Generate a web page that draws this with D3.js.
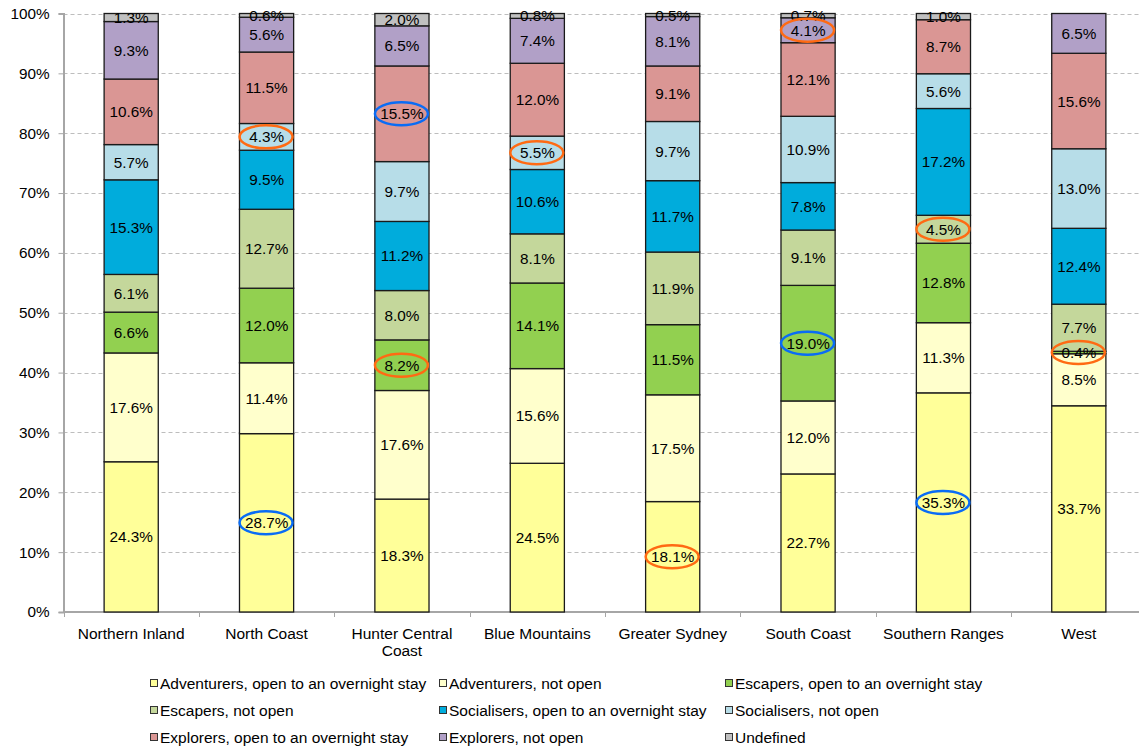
<!DOCTYPE html>
<html>
<head>
<meta charset="utf-8">
<script src="https://cdn.jsdelivr.net/npm/d3@7"></script>
<style>
  html, body { margin: 0; padding: 0; background: #fff; }
  svg { display: block; }
  text { font-family: "Liberation Sans", Arial, sans-serif; fill: #000; }
</style>
</head>
<body>
<svg id="chart" width="1139" height="749"></svg>
<script>
// Regions shown along the x axis
const regions = ["Northern Inland", "North Coast", "Hunter Central Coast", "Blue Mountains",
                 "Greater Sydney", "South Coast", "Southern Ranges", "West"];
const regionLines = [["Northern Inland"], ["North Coast"], ["Hunter Central", "Coast"], ["Blue Mountains"],
                     ["Greater Sydney"], ["South Coast"], ["Southern Ranges"], ["West"]];

// Segments, bottom to top
const segments = ["Adventurers, open to an overnight stay", "Adventurers, not open",
                  "Escapers, open to an overnight stay", "Escapers, not open",
                  "Socialisers, open to an overnight stay", "Socialisers, not open",
                  "Explorers, open to an overnight stay", "Explorers, not open", "Undefined"];
const segmentColors = ["#FFFF99", "#FFFFCC", "#92D050", "#C4D79B", "#00ACDC",
                       "#B7DDE8", "#DA9694", "#B1A0C7", "#C0C0C0"];

// Share (%) of each segment per region, one array per segment
const adventurersOpen    = [24.3, 28.7, 18.3, 24.5, 18.1, 22.7, 35.3, 33.7];
const adventurersNotOpen = [17.6, 11.4, 17.6, 15.6, 17.5, 12.0, 11.3, 8.5];
const escapersOpen       = [6.6, 12.0, 8.2, 14.1, 11.5, 19.0, 12.8, 0.4];
const escapersNotOpen    = [6.1, 12.7, 8.0, 8.1, 11.9, 9.1, 4.5, 7.7];
const socialisersOpen    = [15.3, 9.5, 11.2, 10.6, 11.7, 7.8, 17.2, 12.4];
const socialisersNotOpen = [5.7, 4.3, 9.7, 5.5, 9.7, 10.9, 5.6, 13.0];
const explorersOpen      = [10.6, 11.5, 15.5, 12.0, 9.1, 12.1, 8.7, 15.6];
const explorersNotOpen   = [9.3, 5.6, 6.5, 7.4, 8.1, 4.1, 0, 6.5];
const undefinedShare     = [1.3, 0.6, 2.0, 0.8, 0.5, 0.7, 1.0, 0];

const seriesValues = [adventurersOpen, adventurersNotOpen, escapersOpen, escapersNotOpen,
                      socialisersOpen, socialisersNotOpen, explorersOpen, explorersNotOpen, undefinedShare];

const yTicks = [0, 0.1, 0.2, 0.3, 0.4, 0.5, 0.6, 0.7, 0.8, 0.9, 1];

// Highlighted values: [region, segment, ring colour]
const highlights = [
  ["North Coast", "Socialisers, not open", "orange"],
  ["North Coast", "Adventurers, open to an overnight stay", "blue"],
  ["Hunter Central Coast", "Explorers, open to an overnight stay", "blue"],
  ["Hunter Central Coast", "Escapers, open to an overnight stay", "orange"],
  ["Blue Mountains", "Socialisers, not open", "orange"],
  ["Greater Sydney", "Adventurers, open to an overnight stay", "orange"],
  ["South Coast", "Explorers, not open", "orange"],
  ["South Coast", "Escapers, open to an overnight stay", "blue"],
  ["Southern Ranges", "Escapers, not open", "orange"],
  ["Southern Ranges", "Adventurers, open to an overnight stay", "blue"],
  ["West", "Escapers, open to an overnight stay", "orange"]
];
const ringColors = { orange: "#FF6A13", blue: "#0A6CF5" };

// Table for d3.stack
const rows = regions.map((r, i) => {
  const row = { region: r };
  segments.forEach((s, j) => { row[s] = seriesValues[j][i]; });
  return row;
});

const svg = d3.select("#chart");
const margin = { left: 63.5, right: 1146.5, top: 13.5, bottom: 612 };

const x = d3.scaleBand().domain(regions).range([margin.left, margin.right]).paddingInner(0.6).paddingOuter(0.3);
const xOuter = d3.scaleBand().domain(regions).range([margin.left, margin.right]);
const y = d3.scaleLinear().domain([0, 1]).range([margin.bottom, margin.top]);

const stacked = d3.stack().keys(segments).offset(d3.stackOffsetExpand)(rows);

// Grid lines
svg.append("g")
  .selectAll("line").data(yTicks.filter(t => t > 0)).join("line")
  .attr("x1", margin.left).attr("x2", 1139)
  .attr("y1", d => Math.round(y(d)) + 0.5).attr("y2", d => Math.round(y(d)) + 0.5)
  .attr("stroke", "#BDBDBD").attr("stroke-dasharray", "4,3").attr("stroke-width", 1);

// Y axis
const yAxis = svg.append("g")
  .attr("transform", `translate(${margin.left},0)`)
  .call(d3.axisLeft(y).tickValues(yTicks).tickFormat(d3.format(".0%")).tickSize(5).tickPadding(9));
yAxis.select(".domain").attr("stroke", "#A6A6A6").attr("stroke-width", 2);
yAxis.selectAll(".tick line").attr("stroke", "#A6A6A6");
yAxis.selectAll(".tick text").attr("font-size", 15.3).attr("fill", "#000")
  .style("font-family", "'Liberation Sans', Arial, sans-serif");

// X axis (baseline plus separators between regions)
const xAxisG = svg.append("g").attr("transform", `translate(0,${margin.bottom})`);
xAxisG.append("line").attr("x1", margin.left).attr("x2", 1139).attr("y1", 0).attr("y2", 0)
  .attr("stroke", "#A6A6A6").attr("stroke-width", 2);
xAxisG.selectAll("line.sep").data(regions).join("line").attr("class", "sep")
  .attr("x1", d => Math.round(xOuter(d)) + 0.5).attr("x2", d => Math.round(xOuter(d)) + 0.5)
  .attr("y1", 0).attr("y2", 5).attr("stroke", "#A6A6A6");
xAxisG.selectAll("text.cat").data(regions).join("text").attr("class", "cat")
  .attr("x", d => x(d) + x.bandwidth() / 2)
  .attr("text-anchor", "middle").attr("font-size", 15.5)
  .each(function (d, i) {
    d3.select(this).selectAll("tspan").data(regionLines[i]).join("tspan")
      .attr("x", x(d) + x.bandwidth() / 2)
      .attr("y", (t, k) => 27 + k * 17)
      .text(t => t);
  });

// Bars
const layers = svg.append("g").selectAll("g").data(stacked).join("g")
  .attr("fill", (d, i) => segmentColors[i]);
layers.selectAll("rect").data(d => d.filter(p => p.data[d.key] > 0)).join("rect")
  .attr("x", p => x(p.data.region))
  .attr("width", x.bandwidth())
  .attr("y", p => y(p[1]))
  .attr("height", p => y(p[0]) - y(p[1]))
  .attr("stroke", "#1a1a1a").attr("stroke-width", 1.3);

// Value labels
const labelG = svg.append("g");
stacked.forEach(layer => {
  layer.forEach(p => {
    const v = p.data[layer.key];
    if (!(v > 0)) return;
    labelG.append("text")
      .attr("x", x(p.data.region) + x.bandwidth() / 2)
      .attr("y", (y(p[0]) + y(p[1])) / 2)
      .attr("dy", "0.36em")
      .attr("text-anchor", "middle")
      .attr("font-size", 15.3)
      .text(d3.format(".1f")(v) + "%");
  });
});

// Highlight rings
const ringG = svg.append("g");
highlights.forEach(([region, seg, col]) => {
  const layer = stacked[segments.indexOf(seg)];
  const p = layer[regions.indexOf(region)];
  ringG.append("ellipse")
    .attr("cx", x(region) + x.bandwidth() / 2 - 0.5)
    .attr("cy", (y(p[0]) + y(p[1])) / 2)
    .attr("rx", 26.5).attr("ry", 11.5)
    .attr("fill", "none").attr("stroke", ringColors[col]).attr("stroke-width", 2.5);
});

// Legend: three columns
const legendCols = [150, 439, 725];
const legendRows = [684, 711, 738];
const legend = svg.append("g").attr("class", "legend");
segments.forEach((s, i) => {
  const gx = legendCols[i % 3], gy = legendRows[Math.floor(i / 3)];
  const g = legend.append("g").attr("transform", `translate(${gx},${gy})`);
  g.append("rect").attr("x", 0.5).attr("y", -4.5).attr("width", 7).attr("height", 7)
    .attr("fill", segmentColors[i]).attr("stroke", "#333").attr("stroke-width", 1);
  g.append("text").attr("x", 10).attr("y", 0).attr("dy", "0.35em")
    .attr("font-size", 15.5).text(s);
});
</script>
</body>
</html>
